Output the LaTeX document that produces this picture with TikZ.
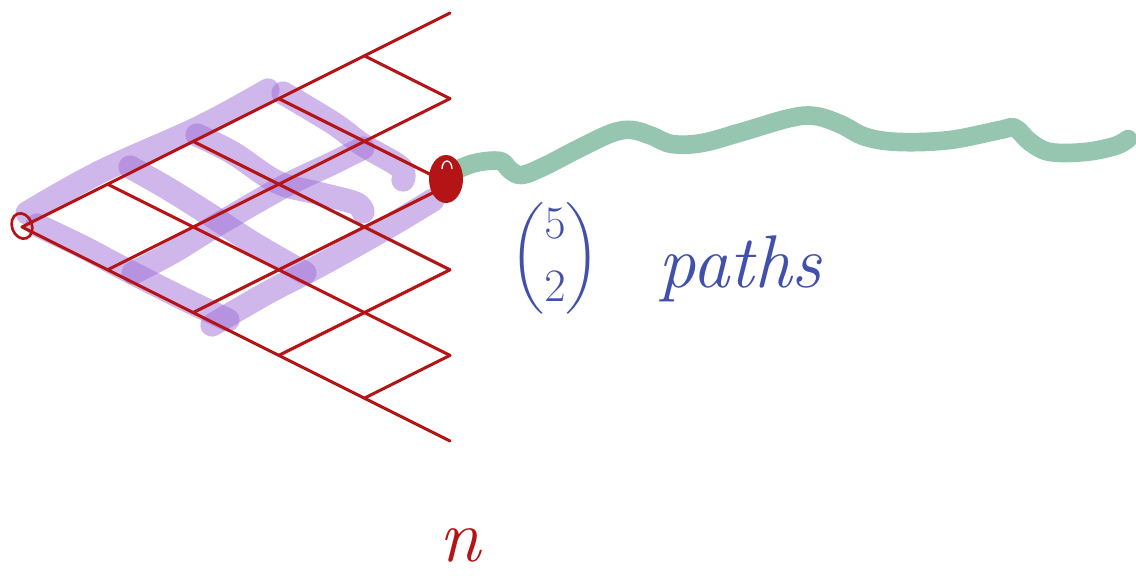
\documentclass[tikz,border=0pt]{standalone}
\usepackage{amsmath}
\usepackage{graphicx}
\usetikzlibrary{calc}
\definecolor{lred}{RGB}{180,20,22}
\definecolor{lpurple}{RGB}{160,110,215}
\definecolor{lgreen}{RGB}{150,198,175}
\definecolor{lblue}{RGB}{65,80,170}
\begin{document}
\begin{tikzpicture}[x=0.75pt,y=-0.75pt,
  lattice/.style={draw=lred,line width=2.3pt,line cap=round,line join=round},
  hl/.style={draw=lpurple,opacity=0.5,line width=17.5pt,line cap=round,line join=round},
  wave/.style={draw=lgreen,line width=14pt,line cap=round,line join=round},
  hand/.style={text=lblue,inner sep=0pt}]
\useasboundingbox (0,0) rectangle (1136,579);
% lattice points
\foreach \i in {0,...,5}{\foreach \j in {0,...,5}{
  \coordinate (p\i\j) at ({22+85.6*(\i+\j)},{227-42.8*(\i-\j)});}}
% highlighted paths
\draw[hl] plot[smooth,tension=0.6] coordinates {(27,213) (100,172) (200,127) (268,90)};
\draw[hl] plot[smooth,tension=0.6] coordinates {(283,93) (333,123) (363,145) (400,167) (403,180)};
\draw[hl] plot[smooth,tension=0.6] coordinates {(197,135) (233,153) (277,182) (317,193) (355,203) (363,212)};
\draw[hl] plot[smooth,tension=0.6] coordinates {(130,167) (167,188) (207,213) (253,243) (305,273)};
\draw[hl] plot[smooth,tension=0.6] coordinates {(37,225) (83,247) (117,265) (150,282) (190,302) (228,320)};
\draw[hl] plot[smooth,tension=0.6] coordinates {(133,273) (173,252) (217,225) (283,187) (333,163) (363,148)};
\draw[hl] plot[smooth,tension=0.6] coordinates {(212,325) (267,293) (317,267) (383,230) (433,200)};
% lattice lines
\foreach \i in {0,...,4}{
  \pgfmathtruncatemacro\k{5-\i}
  \draw[lattice] (p\i0) -- (p\i\k);
  \draw[lattice] (p0\i) -- (p\k\i);}
% start and end marks
\draw[lred,line width=2pt,rotate around={20:(22,226)}] (22,226) ellipse [x radius=10,y radius=13];
\coordinate (blob) at (446,179);
\draw[wave] plot[smooth,tension=0.6] coordinates {(452,172) (475,163) (500,161) (510,170) (522,175) (545,166) (578,149) (612,133) (632,130) (652,136) (672,144) (702,143) (742,132) (790,118) (815,116) (840,124) (866,137) (900,142) (950,140) (1000,130) (1015,128) (1030,142) (1050,152) (1085,152) (1115,146) (1128,139)};
\fill[lred] (blob) ellipse [x radius=17,y radius=24];
\draw[white,line width=1pt] ($(blob)+(-4,-10)$) arc[start angle=180,end angle=360,x radius=5,y radius=8];
% labels
\node[hand,font=\fontsize{34}{40}\selectfont] (binom) at (555,258) {\scalebox{1.4}{$\displaystyle\binom{5}{2}$}};
\node[hand,font=\fontsize{56}{60}\selectfont\itshape,anchor=base] (paths) at (740,287) {paths};
\node[text=lred,inner sep=0pt,font=\fontsize{56}{56}\selectfont\itshape] (n) at (460,545) {n};
\end{tikzpicture}
\end{document}
